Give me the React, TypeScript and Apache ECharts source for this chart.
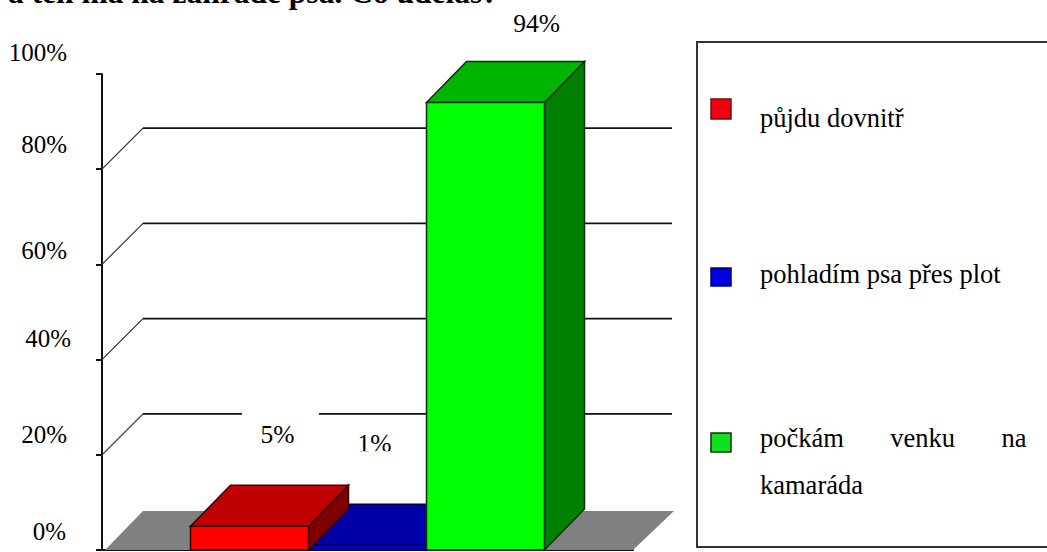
import React, { useEffect, useRef } from "react";
import * as echarts from "echarts";

const titleText = "a ten má na zahradě psa. Co uděláš?";
const categories = ["půjdu dovnitř", "pohladím psa přes plot", "počkám venku na kamaráda"];
const legendLines = ["půjdu dovnitř", "pohladím psa přes plot", "počkám       venku       na\nkamaráda"];
const values = [5, 1, 94];
const gridValues = [20, 40, 60, 80];
const yTicks = [0, 20, 40, 60, 80, 100];

// styling
const FONT = "'Liberation Serif', 'Times New Roman', serif";
const faceFront = ["#ff0000", "#0000c8", "#00ff00"];
const faceTop = ["#c00000", "#0000a8", "#00b400"];
const faceSide = ["#800000", "#000080", "#008000"];
const faceStroke = ["#3a0000", "#000040", "#0a300a"];
const paintOrder = [1, 0, 2];
const labelDx = [28, 7, 51];
const labelDy = [-92, -102, -79];
const DX = 40;
const DY = 41;
const BAR_RATIO = 118 / 531;
const tickLabelStyle: Record<number, { lift: number; shift: number }> = {
  100: { lift: 22, shift: 4 },
  80: { lift: 25, shift: 4 },
  60: { lift: 14, shift: 4 },
  40: { lift: 21, shift: 0 },
  20: { lift: 20, shift: 4 },
  0: { lift: 19, shift: 5 },
};

const legendSwatch = [
  { y: 99, h: 20, fill: "#f00010", stroke: "#701010" },
  { y: 268, h: 18, fill: "#0000e0", stroke: "#000070" },
  { y: 433, h: 19, fill: "#10e020", stroke: "#103010" },
];
const legendTextY = [94, 250, 414];

export default function App() {
  const ref = useRef<HTMLDivElement>(null);
  useEffect(() => {
    const chart = echarts.init(ref.current!, undefined, { renderer: "svg" });

    const rich: Record<string, any> = {};
    yTicks.forEach((t) => {
      const s = tickLabelStyle[t];
      rich["t" + t] = {
        fontFamily: FONT,
        fontSize: 25,
        color: "#000",
        padding: [0, s.shift, s.lift * 2, 0],
      };
    });

    const barSeries = paintOrder.map((i) => ({
      type: "custom",
      name: categories[i],
      z: 3 + paintOrder.indexOf(i),
      data: [[0, values[i]]],
      encode: { x: 0, y: 1 },
      renderItem: (_p: any, api: any) => {
        const base = api.coord([api.value(0), 0]);
        const top = api.coord([api.value(0), api.value(1)]);
        const bw = api.size([1, 0])[0] * BAR_RATIO;
        const x0 = base[0] - bw / 2 + (i - 1) * bw;
        const x1 = x0 + bw;
        const yT = top[1];
        const yB = base[1];
        const lineStyle = { stroke: faceStroke[i], lineWidth: 1.5 };
        const lx = (x0 + x1) / 2 + labelDx[i];
        const ly = yT + labelDy[i];
        const children: any[] = [
          {
            type: "polygon",
            shape: { points: [[x1, yT], [x1 + DX, yT - DY], [x1 + DX, yB - DY], [x1, yB]] },
            style: { fill: faceSide[i], ...lineStyle },
          },
          {
            type: "polygon",
            shape: { points: [[x0, yT], [x0 + DX, yT - DY], [x1 + DX, yT - DY], [x1, yT]] },
            style: { fill: faceTop[i], ...lineStyle },
          },
          {
            type: "rect",
            shape: { x: x0, y: yT, width: bw, height: yB - yT },
            style: { fill: faceFront[i], ...lineStyle },
          },
        ];
        if (i === 0) {
          children.push({
            type: "rect",
            shape: { x: lx - 35.5, y: ly - 28, width: 77, height: 44 },
            style: { fill: "#fff", stroke: null },
          });
        }
        children.push({
          type: "text",
          style: {
            text: values[i] + "%",
            x: lx,
            y: ly,
            align: "center",
            verticalAlign: "middle",
            fontFamily: FONT,
            fontSize: 25.5,
            fill: "#000",
          },
        });
        if (i === 1) {
          // the label of this bar is cut off along its lower edge
          children.push({
            type: "rect",
            shape: { x: lx - 25, y: ly + 8, width: 50, height: 10 },
            style: { fill: "#fff", stroke: null },
          });
        }
        return { type: "group", children };
      },
    }));

    const wallSeries = {
      type: "custom",
      name: "wall",
      z: 1,
      data: gridValues.map((v) => [0, v]),
      encode: { x: 0, y: 1 },
      renderItem: (p: any, api: any) => {
        const cs = p.coordSys;
        const pt = api.coord([api.value(0), api.value(1)]);
        const y = pt[1];
        const lx = cs.x + 41;
        return {
          type: "group",
          children: [
            {
              type: "line",
              shape: { x1: cs.x, y1: y, x2: lx, y2: y - DY },
              style: { stroke: "#333", lineWidth: 1.2 },
            },
            {
              type: "line",
              shape: { x1: lx, y1: y - DY, x2: cs.x + cs.width + 39, y2: y - DY },
              style: { stroke: "#111", lineWidth: 1.8 },
            },
          ],
        };
      },
    };

    const floorSeries = {
      type: "custom",
      name: "floor",
      z: 2,
      data: [[0, 0]],
      encode: { x: 0, y: 1 },
      renderItem: (p: any, api: any) => {
        const cs = p.coordSys;
        const y = api.coord([0, 0])[1];
        const d = DY - 2;
        return {
          type: "polygon",
          shape: {
            points: [
              [cs.x + 3, y],
              [cs.x + 41, y - d],
              [cs.x + cs.width + 41, y - d],
              [cs.x + cs.width, y],
            ],
          },
          style: { fill: "#808080", stroke: null },
        };
      },
    };

    const graphicElements: any[] = [
      {
        type: "text",
        x: 8,
        y: -24,
        style: { text: titleText, fontFamily: FONT, fontWeight: "bold", fontSize: 31.5, fill: "#000" },
      },
      {
        type: "rect",
        shape: { x: 697, y: 42, width: 370, height: 505 },
        style: { fill: "#fff", stroke: "#333", lineWidth: 2 },
      },
    ];
    legendSwatch.forEach((s, i) => {
      graphicElements.push({
        type: "rect",
        shape: { x: 711, y: s.y, width: 20, height: s.h },
        style: { fill: s.fill, stroke: s.stroke, lineWidth: 1.5 },
      });
      graphicElements.push({
        type: "text",
        x: 760,
        y: legendTextY[i],
        style: {
          text: legendLines[i],
          fontFamily: FONT,
          fontSize: 26.5,
          lineHeight: 47,
          fill: "#000",
        },
      });
    });

    chart.setOption({
      animation: false,
      backgroundColor: "#fff",
      grid: { left: 102, right: 1047 - 633, top: 74, bottom: 2, containLabel: false },
      xAxis: {
        type: "category",
        data: [""],
        axisLine: { show: true, lineStyle: { color: "#111", width: 2 } },
        axisTick: { show: false },
        axisLabel: { show: false },
        splitLine: { show: false },
      },
      yAxis: {
        type: "value",
        min: 0,
        max: 100,
        interval: 20,
        axisLine: { show: true, lineStyle: { color: "#111", width: 2 } },
        axisTick: { show: true, length: 6, lineStyle: { color: "#111", width: 2 } },
        axisLabel: {
          show: true,
          margin: 31,
          showMinLabel: true,
          showMaxLabel: true,
          formatter: (v: number) => `{t${v}|${v}%}`,
          rich,
        },
        splitLine: { show: false },
      },
      series: [wallSeries, floorSeries, ...barSeries],
      graphic: { elements: graphicElements },
    });
    return () => chart.dispose();
  }, []);
  return <div ref={ref} style={{ position: "absolute", left: 0, top: 0, width: 1047, height: 552 }} />;
}
